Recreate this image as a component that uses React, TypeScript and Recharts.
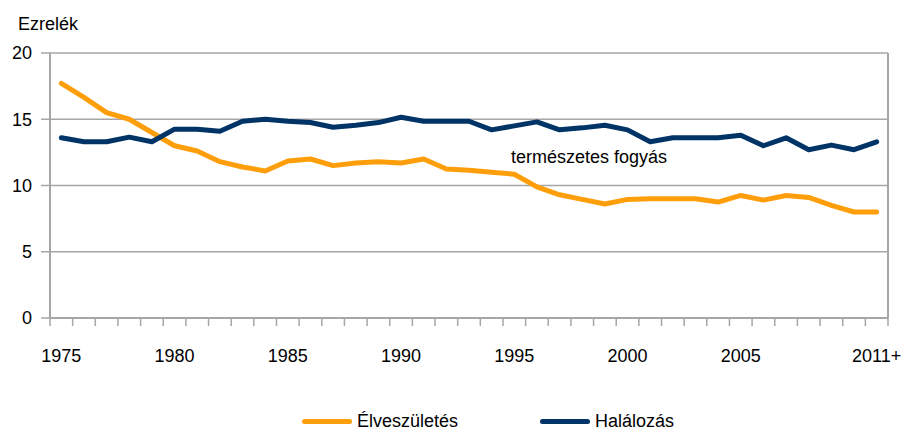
import {
  LineChart,
  Line,
  XAxis,
  YAxis,
  CartesianGrid,
  ReferenceLine,
  ReferenceDot,
} from 'recharts'

const years = [
  1975, 1976, 1977, 1978, 1979, 1980, 1981, 1982, 1983, 1984, 1985, 1986, 1987,
  1988, 1989, 1990, 1991, 1992, 1993, 1994, 1995, 1996, 1997, 1998, 1999, 2000,
  2001, 2002, 2003, 2004, 2005, 2006, 2007, 2008, 2009, 2010, 2011,
]

const births = [
  17.7, 16.65, 15.5, 15.0, 14.0, 13.0, 12.6, 11.8, 11.4, 11.1, 11.85, 12.0, 11.5,
  11.7, 11.8, 11.7, 12.0, 11.25, 11.15, 11.0, 10.85, 9.9, 9.3, 8.95, 8.6, 8.95,
  9.0, 9.0, 9.0, 8.75, 9.25, 8.9, 9.25, 9.1, 8.5, 8.0, 8.0,
]

const deaths = [
  13.6, 13.3, 13.3, 13.65, 13.3, 14.25, 14.25, 14.1, 14.85, 15.0, 14.85, 14.75,
  14.4, 14.55, 14.75, 15.15, 14.85, 14.85, 14.85, 14.2, 14.5, 14.8, 14.2, 14.35,
  14.55, 14.2, 13.3, 13.6, 13.6, 13.6, 13.8, 13.0, 13.6, 12.7, 13.05, 12.7, 13.3,
]

const labelYears = [1975, 1980, 1985, 1990, 1995, 2000, 2005, 2011]
const yTicks = [0, 5, 10, 15, 20]

const data = years.map((year, i) => ({ year, births: births[i], deaths: deaths[i] }))

// tick marks sit between the years, labels under the points
const boundaryTicks = years.map((y) => y - 0.5).concat([2011.5])
const xTicks = [...boundaryTicks, ...labelYears].sort((a, b) => a - b)

const ORANGE = '#FF9E0B'
const BLUE = '#003366'
const GRID = '#A6A6A6'
const FONT = '"Liberation Sans", Arial, sans-serif'
const FS = 18

const XTick = (props: any) => {
  const { x, y, payload } = props
  const v = payload.value
  if (v % 1 !== 0) {
    return <line x1={x} x2={x} y1={y} y2={y + 8} stroke={GRID} strokeWidth={1.5} />
  }
  return (
    <text x={x} y={y + 44} textAnchor="middle" fontSize={FS} fill="#000" fontFamily={FONT}>
      {v === 2011 ? '2011+' : v}
    </text>
  )
}

const LegendItem = ({ color, text, left }: { color: string; text: string; left: number }) => (
  <div style={{ position: 'absolute', left, top: 411, display: 'flex', alignItems: 'center' }}>
    <div style={{ width: 50, height: 5, borderRadius: 3, background: color, marginRight: 5 }} />
    <span style={{ fontSize: FS, fontFamily: FONT, color: '#000' }}>{text}</span>
  </div>
)

export default function App() {
  return (
    <div style={{ position: 'relative', width: 903, height: 432, overflow: 'hidden', background: '#fff' }}>
      {/* drop the default body margin so the chart fills the whole page */}
      <style>{'body { margin: 0; }'}</style>
      <div
        style={{ position: 'absolute', left: 18, top: 14, fontSize: FS, fontFamily: FONT, color: '#000' }}
      >
        Ezrelék
      </div>
      <LineChart
        width={903}
        height={432}
        data={data}
        margin={{ top: 53, right: 15, left: 0, bottom: 84 }}
      >
        <CartesianGrid vertical={false} stroke={GRID} strokeWidth={1.5} />
        <XAxis
          dataKey="year"
          type="number"
          domain={[1974.5, 2011.5]}
          ticks={xTicks}
          interval={0}
          tick={<XTick />}
          tickLine={false}
          tickSize={0}
          tickMargin={0}
          height={30}
          axisLine={{ stroke: GRID, strokeWidth: 2 }}
        />
        <YAxis
          domain={[0, 20]}
          ticks={yTicks}
          interval={0}
          width={50}
          tickSize={9}
          tickMargin={9}
          tickLine={{ stroke: GRID, strokeWidth: 1.5 }}
          axisLine={{ stroke: GRID, strokeWidth: 2 }}
          tick={{ fontSize: FS, fill: '#000', fontFamily: FONT }}
        />
        <ReferenceLine x={2011.5} stroke={GRID} strokeWidth={2} />
        <ReferenceDot
          x={1998.3}
          y={12.15}
          r={0}
          fill="none"
          stroke="none"
          label={{ value: 'természetes fogyás', position: 'center', fontSize: FS, fill: '#000', fontFamily: FONT }}
        />
        <Line
          dataKey="births"
          stroke={ORANGE}
          strokeWidth={5}
          dot={false}
          strokeLinecap="round"
          strokeLinejoin="round"
          isAnimationActive={false}
        />
        <Line
          dataKey="deaths"
          stroke={BLUE}
          strokeWidth={5}
          dot={false}
          strokeLinecap="round"
          strokeLinejoin="round"
          isAnimationActive={false}
        />
      </LineChart>
      <LegendItem color={ORANGE} text="Élveszületés" left={302} />
      <LegendItem color={BLUE} text="Halálozás" left={540} />
    </div>
  )
}
